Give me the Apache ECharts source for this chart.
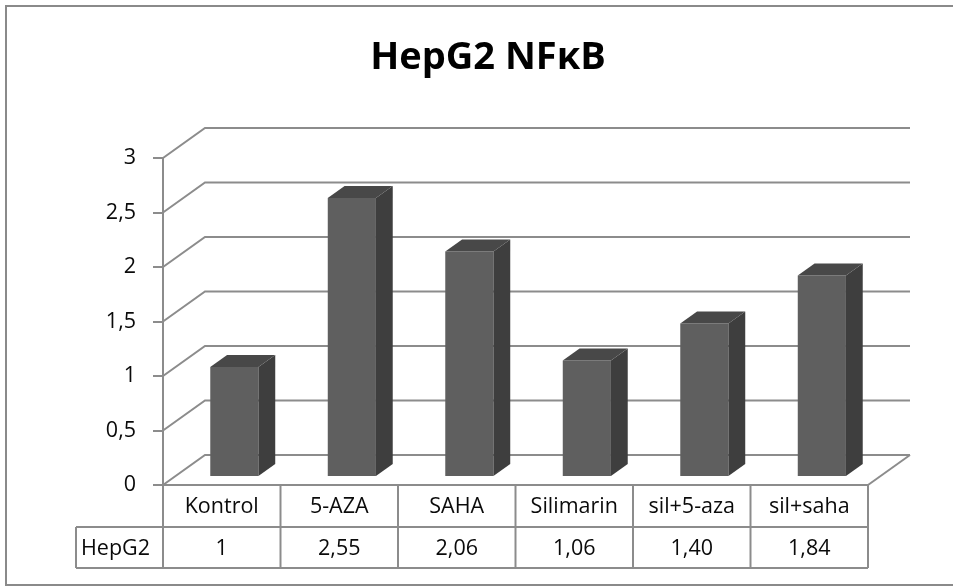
<!DOCTYPE html>
<html><head><meta charset="utf-8">
<script src="https://cdn.jsdelivr.net/npm/echarts@6/dist/echarts.min.js"></script>
<style>html,body{margin:0;padding:0;background:#fff}#c{width:953px;height:586px}</style>
</head><body><div id="c"></div>
<script>
const categories = ['Kontrol', '5-AZA', 'SAHA', 'Silimarin', 'sil+5-aza', 'sil+saha'];
const hepg2 = [1, 2.55, 2.06, 1.06, 1.40, 1.84];
const hepg2Labels = ['1', '2,55', '2,06', '1,06', '1,40', '1,84'];
const seriesName = 'HepG2';
const yTicks = [0, 0.5, 1, 1.5, 2, 2.5, 3];
const titleText = 'HepG2 NFκB';

const DX = 42, DY = -30;          // 3D depth offset of back wall
const GRID = '#8c8c8c';
const FONT = '"Open Sans", "Liberation Sans", sans-serif';
const TXT = '#0a0a0a';

const chart = echarts.init(document.getElementById('c'), null, {renderer: 'canvas'});

function frameItem(params, api) {
  const ch = [];
  const n = categories.length;
  const bw = api.size([1, 0])[0];
  const xL = api.coord([0, 0])[0] - bw / 2;
  const xR = api.coord([n - 1, 0])[0] + bw / 2;
  const y0 = api.coord([0, 0])[1];
  const ln = (pts) => ch.push({type: 'polyline', shape: {points: pts}, style: {stroke: GRID, lineWidth: 2, fill: null}});
  yTicks.forEach(v => {
    const y = api.coord([0, v])[1];
    ln([[xL, y], [xL + DX, y + DY], [xR + DX, y + DY]]);
  });
  ln([[xR, y0], [xR + DX, y0 + DY]]);
  // data table
  const r1 = 42, r2 = 83, headL = 76;
  ln([[xL, y0], [xR, y0]]);
  ln([[headL, y0 + r1], [xR, y0 + r1]]);
  ln([[headL, y0 + r2], [xR, y0 + r2]]);
  ln([[headL, y0 + r1], [headL, y0 + r2]]);
  for (let k = 0; k <= n; k++) {
    const x = xL + k * bw;
    ln([[x, y0], [x, y0 + r2]]);
  }
  categories.forEach((c, i) => {
    const cx = api.coord([i, 0])[0];
    ch.push({type: 'text', style: {x: cx, y: y0 + r1 / 2 + 1, text: c, fill: TXT, fontSize: 21.5, fontFamily: FONT, align: 'center', verticalAlign: 'middle'}});
    ch.push({type: 'text', style: {x: cx, y: y0 + (r1 + r2) / 2 + 1, text: hepg2Labels[i], fill: TXT, fontSize: 21.5, fontFamily: FONT, align: 'center', verticalAlign: 'middle'}});
  });
  ch.push({type: 'text', style: {x: headL + 5, y: y0 + (r1 + r2) / 2 + 1, text: seriesName, fill: TXT, fontSize: 21.5, fontFamily: FONT, align: 'left', verticalAlign: 'middle'}});
  return {type: 'group', children: ch};
}

function barItem(params, api) {
  const i = api.value(0), v = api.value(1);
  const bw = api.size([1, 0])[0];
  const base = api.coord([i, 0]);
  const top = api.coord([i, v]);
  const w = bw * 0.41;
  const f1 = 0.3, d = 0.4;
  const sx = DX * f1, sy = DY * f1, ddx = DX * d, ddy = DY * d;
  const xl = base[0] - w / 2 + sx, xr = xl + w;
  const yt = top[1] + sy, yb = base[1] + sy;
  return {type: 'group', children: [
    {type: 'rect', shape: {x: xl, y: yt, width: w, height: yb - yt}, style: {fill: '#5f5f5f'}},
    {type: 'polygon', shape: {points: [[xr, yt], [xr + ddx, yt + ddy], [xr + ddx, yb + ddy], [xr, yb]]}, style: {fill: '#3e3e3e'}},
    {type: 'polygon', shape: {points: [[xl, yt], [xl + ddx, yt + ddy], [xr + ddx, yt + ddy], [xr, yt]]}, style: {fill: '#484848'}}
  ]};
}

chart.setOption({
  animation: false,
  backgroundColor: '#fff',
  graphic: [
    {type: 'rect', shape: {x: 6, y: 6, width: 990, height: 579}, style: {fill: null, stroke: '#8a8a8a', lineWidth: 2}, z: 0},
    {type: 'text', style: {x: 488, y: 58, text: titleText, fill: '#000', fontSize: 38, fontWeight: 'bold', fontFamily: FONT, align: 'center', verticalAlign: 'middle'}}
  ],
  grid: {left: 163, right: 85, top: 158, bottom: 101},
  xAxis: {type: 'category', data: categories, show: false},
  yAxis: {
    type: 'value', min: 0, max: 3, interval: 0.5,
    axisLine: {show: true, lineStyle: {color: GRID, width: 2}},
    axisTick: {show: true, length: 10, lineStyle: {color: GRID, width: 2}},
    splitLine: {show: false},
    axisLabel: {formatter: v => String(v).replace('.', ','), fontSize: 21.5, fontFamily: FONT, color: TXT, margin: 27, padding: [5, 0, 0, 0]}
  },
  series: [
    {type: 'custom', name: 'frame', renderItem: frameItem, data: [[0, 0]], z: 1, silent: true},
    {type: 'custom', name: seriesName, renderItem: barItem, data: hepg2.map((v, i) => [i, v]), z: 2}
  ]
});
</script></body></html>
